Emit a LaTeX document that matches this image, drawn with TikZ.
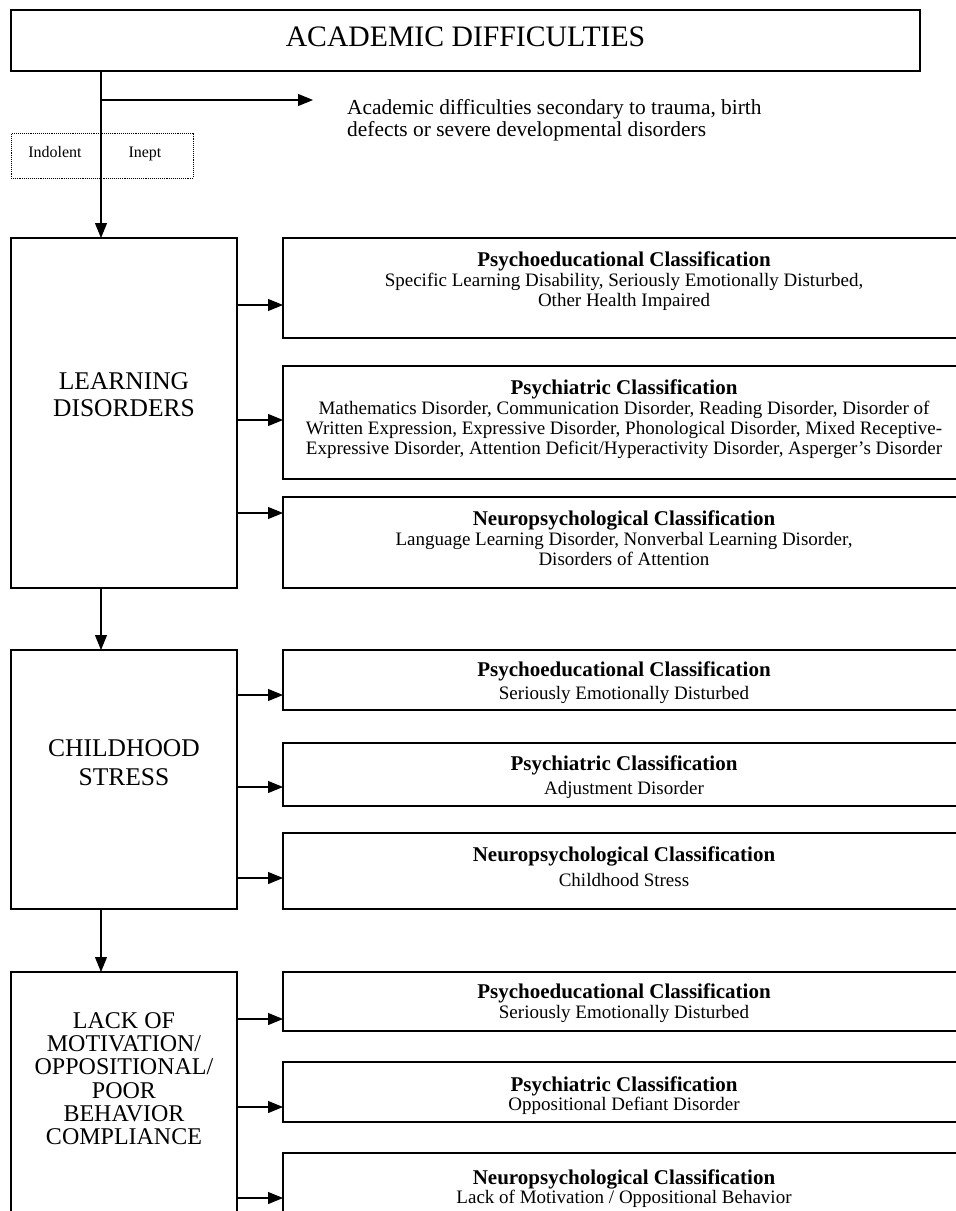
\documentclass[tikz,border=0pt]{standalone}
\usepackage{fontspec}
\setmainfont{Liberation Serif}
\usetikzlibrary{arrows.meta,positioning}

\tikzset{
  frame/.style={draw, line width=1.1pt, inner sep=0pt, outer sep=0pt, anchor=north west},
  headbox/.style={frame, minimum width=909pt, minimum height=61pt, text depth=8pt,
    font=\fontsize{29.7}{31}\selectfont},
  levelbox/.style={frame, minimum width=226pt},
  classbox/.style={frame, minimum width=682pt},
  leveltext/.style={align=center, inner sep=0pt, anchor=north, font=\fontsize{25.5}{27}\selectfont},
  classtext/.style={align=center, inner sep=0pt, anchor=north, font=\fontsize{19}{19.8}\selectfont},
  feed/.style={-{Triangle[length=15pt,width=12pt]}, line width=1.1pt},
}
\newcommand{\classhead}[1]{{\fontsize{21}{19.8}\selectfont\bfseries #1}}

\begin{document}
\begin{tikzpicture}[x=1pt,y=1pt]
	\clip (0,0) rectangle (956,-1211);
	% top of the chart
	\node[headbox] (top) at (11,-10) {ACADEMIC DIFFICULTIES};
	\coordinate (fork) at (101,-100);
	\node[anchor=north west, align=left, inner sep=0pt, font=\fontsize{21.4}{22}\selectfont] (trauma) at (347,-99)
		{Academic difficulties secondary to trauma, birth\\defects or severe developmental disorders};
	\coordinate (traumatip) at (313,-100);
	\node[frame, densely dotted, line width=0.9pt, minimum width=182pt, minimum height=45pt] (manner) at (11,-133) {};
	\node[anchor=base, font=\fontsize{16}{18}\selectfont] (indolent) at ([xshift=-47pt,yshift=-1.5pt]manner.center) {Indolent};
	\node[anchor=base, font=\fontsize{16}{18}\selectfont] (inept) at ([xshift=43pt,yshift=-1.5pt]manner.center) {Inept};

	% learning disorders
	\node[levelbox, minimum height=350pt] (ld) at (11,-238) {};
	\node[leveltext] (ldtext) at ([yshift=-134pt]ld.north) {LEARNING\\DISORDERS};
	\node[classbox, minimum height=100pt] (ldpsyed) at (283,-238) {};
	\node[classtext] (ldpsyedtext) at ([yshift=-14pt]ldpsyed.north)
		{\classhead{Psychoeducational Classification}\\Specific Learning Disability, Seriously Emotionally Disturbed,\\Other Health Impaired};
	\node[classbox, minimum height=113pt] (ldpsych) at (283,-366) {};
	\node[classtext] (ldpsychtext) at ([yshift=-14pt]ldpsych.north)
		{\classhead{Psychiatric Classification}\\Mathematics Disorder, Communication Disorder, Reading Disorder, Disorder of\\Written Expression, Expressive Disorder, Phonological Disorder, Mixed Receptive-\\Expressive Disorder, Attention Deficit/Hyperactivity Disorder, Asperger's Disorder};
	\node[classbox, minimum height=91pt] (ldneuro) at (283,-497) {};
	\node[classtext] (ldneurotext) at ([yshift=-14pt]ldneuro.north)
		{\classhead{Neuropsychological Classification}\\Language Learning Disorder, Nonverbal Learning Disorder,\\Disorders of Attention};

	% childhood stress
	\node[levelbox, minimum height=259pt] (cs) at (11,-650) {};
	\node[leveltext, font=\fontsize{25.5}{29.5}\selectfont] (cstext) at ([yshift=-89pt]cs.north) {CHILDHOOD\\STRESS};
	\node[classbox, minimum height=60pt] (cspsyed) at (283,-650) {};
	\node[classtext, font=\fontsize{19}{23}\selectfont] (cspsyedtext) at ([yshift=-12pt]cspsyed.north)
		{\classhead{Psychoeducational Classification}\\Seriously Emotionally Disturbed};
	\node[classbox, minimum height=63pt] (cspsych) at (283,-743) {};
	\node[classtext, font=\fontsize{19}{23.5}\selectfont] (cspsychtext) at ([yshift=-13pt]cspsych.north)
		{\classhead{Psychiatric Classification}\\Adjustment Disorder};
	\node[classbox, minimum height=76pt] (csneuro) at (283,-833) {};
	\node[classtext, font=\fontsize{19}{25}\selectfont] (csneurotext) at ([yshift=-14pt]csneuro.north)
		{\classhead{Neuropsychological Classification}\\Childhood Stress};

	% motivation and behavior
	\node[levelbox, minimum height=260pt] (lom) at (11,-972) {};
	\node[leveltext, font=\fontsize{24}{23.3}\selectfont] (lomtext) at ([yshift=-40pt]lom.north)
		{LACK OF\\MOTIVATION/\\OPPOSITIONAL/\\POOR\\BEHAVIOR\\COMPLIANCE};
	\node[classbox, minimum height=59pt] (lompsyed) at (283,-972) {};
	\node[classtext] (lompsyedtext) at ([yshift=-12pt]lompsyed.north)
		{\classhead{Psychoeducational Classification}\\Seriously Emotionally Disturbed};
	\node[classbox, minimum height=60pt] (lompsych) at (283,-1062) {};
	\node[classtext] (lompsychtext) at ([yshift=-14pt]lompsych.north)
		{\classhead{Psychiatric Classification}\\Oppositional Defiant Disorder};
	\node[classbox, minimum height=80pt] (lomneuro) at (283,-1153) {};
	\node[classtext] (lomneurotext) at ([yshift=-16pt]lomneuro.north)
		{\classhead{Neuropsychological Classification}\\Lack of Motivation / Oppositional Behavior};

	% heights of the side arrows
	\coordinate (ldrowa) at (0,-305);
	\coordinate (ldrowb) at (0,-420);
	\coordinate (ldrowc) at (0,-513);
	\coordinate (csrowa) at (0,-695);
	\coordinate (csrowb) at (0,-787);
	\coordinate (csrowc) at (0,-878);
	\coordinate (lomrowa) at (0,-1019);
	\coordinate (lomrowb) at (0,-1107);
	\coordinate (lomrowc) at (0,-1198);

	% connectors
	\draw[feed] (top.south -| fork) -- (ld.north -| fork);
	\draw[feed] (fork) -- (traumatip);
	\draw[feed] (ld.south -| fork) -- (cs.north -| fork);
	\draw[feed] (cs.south -| fork) -- (lom.north -| fork);
	\draw[feed] (ld.east |- ldrowa) -- (ldpsyed.west |- ldrowa);
	\draw[feed] (ld.east |- ldrowb) -- (ldpsych.west |- ldrowb);
	\draw[feed] (ld.east |- ldrowc) -- (ldneuro.west |- ldrowc);
	\draw[feed] (cs.east |- csrowa) -- (cspsyed.west |- csrowa);
	\draw[feed] (cs.east |- csrowb) -- (cspsych.west |- csrowb);
	\draw[feed] (cs.east |- csrowc) -- (csneuro.west |- csrowc);
	\draw[feed] (lom.east |- lomrowa) -- (lompsyed.west |- lomrowa);
	\draw[feed] (lom.east |- lomrowb) -- (lompsych.west |- lomrowb);
	\draw[feed] (lom.east |- lomrowc) -- (lomneuro.west |- lomrowc);
\end{tikzpicture}
\end{document}
